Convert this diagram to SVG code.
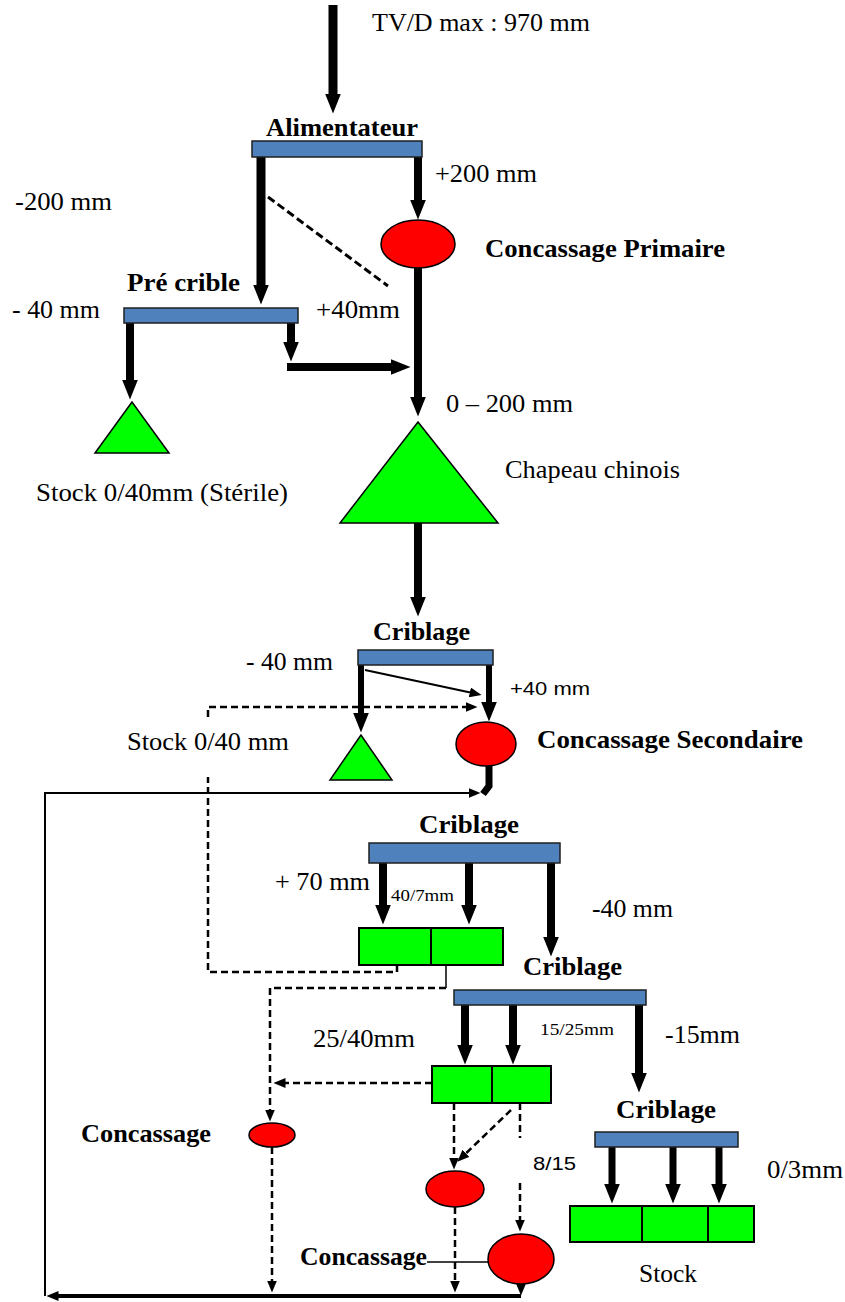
<svg xmlns="http://www.w3.org/2000/svg" width="845" height="1302" viewBox="0 0 845 1302">
<style>
  text { font-family: "Liberation Serif", "Times New Roman", serif; font-size: 26px; fill: #000; }
  .b { font-weight: bold; font-size: 25px; }
  .bb { font-weight: bold; font-size: 25px; }
  .sans { font-family: "Liberation Sans", Arial, sans-serif; font-size: 18px; }
  .sm { font-size: 16px; }
  .bar { fill: #4F81BD; stroke: #1F1F1F; stroke-width: 1.5; }
  .grn { fill: #00FF00; stroke: #000; stroke-width: 2; }
  .red { fill: #FF0000; stroke: #000; stroke-width: 1.5; }
  .thick { fill: none; stroke: #000; stroke-width: 8; marker-end: url(#ahL); }
  .dash { fill: none; stroke: #000; stroke-width: 2.5; stroke-dasharray: 7 4; }
  .dashA { fill: none; stroke: #000; stroke-width: 2.5; stroke-dasharray: 7 4; marker-end: url(#ahS); }
  .thin { fill: none; stroke: #000; stroke-width: 2; }
</style>
<defs>
  <marker id="ahL" viewBox="0 0 20 16" markerWidth="20" markerHeight="16" refX="0.5" refY="8" orient="auto" markerUnits="userSpaceOnUse">
    <path d="M0,0 L20,8 L0,16 z" fill="#000"/>
  </marker>
  <marker id="ahS" viewBox="0 0 12 10" markerWidth="12" markerHeight="10" refX="0.5" refY="5" orient="auto" markerUnits="userSpaceOnUse">
    <path d="M0,0 L12,5 L0,10 z" fill="#000"/>
  </marker>
</defs>

<g id="connectors">
  <path class="thick" d="M333,5 V94" style="stroke-width:9"/>
  <path class="thick" d="M261,157 V285" style="stroke-width:9"/>
  <path class="thick" d="M418,157 V200" style="stroke-width:8"/>
  <path class="dash" d="M268,197 L388,286" style="stroke-width:3;stroke-dasharray:8 4"/>
  <path class="thick" d="M418,268 V397"/>
  <path class="thick" d="M130,323 V380"/>
  <path class="thick" d="M291,323 V342"/>
  <path class="thick" d="M287,367 H391"/>
  <path class="thick" d="M418,523 V597"/>
  <path class="thick" d="M361,665 V713" style="stroke-width:6"/>
  <path class="thick" d="M489,665 V702" style="stroke-width:6"/>
  <path class="thin" d="M365,670 L470.3,692.5" style="marker-end:url(#ahS)"/>
  <path class="dashA" d="M397,965 V972 H208 V777 M208,717 V707 H466"/>
  <path d="M489,766 V786 L483,794" fill="none" stroke="#000" stroke-width="7"/>
  <path class="thin" d="M45,1296 V793 H469" style="marker-end:url(#ahS)"/>
  <path class="thick" d="M383,863 V905"/>
  <path class="thick" d="M469,863 V905"/>
  <path class="thick" d="M551,863 V937"/>
  <path class="thin" d="M446,965 V988" style="stroke-width:1.5"/>
  <path class="dashA" d="M446,988 H270 V1110"/>
  <path class="thick" d="M465,1005 V1045"/>
  <path class="thick" d="M513,1005 V1045"/>
  <path class="thick" d="M639,1005 V1073"/>
  <path class="dashA" d="M432,1083 H285"/>
  <path class="dashA" d="M272,1147 V1281"/>
  <path class="dashA" d="M454,1103 V1158"/>
  <path class="dashA" d="M511,1110 L465.6,1153.7"/>
  <path class="dashA" d="M520,1103 V1138 M520,1183 V1220"/>
  <path class="dashA" d="M455,1207 V1281"/>
  <path d="M521,1283 V1284" fill="none" stroke="#000" stroke-width="4" style="marker-end:url(#ahS)"/>
  <path d="M521,1296 H58" fill="none" stroke="#000" stroke-width="4" style="marker-end:url(#ahS)"/>
  <path class="thin" d="M427,1262 H488" style="stroke-width:1.5"/>
  <path class="thick" d="M612,1147 V1184" style="stroke-width:7"/>
  <path class="thick" d="M673,1147 V1184" style="stroke-width:7"/>
  <path class="thick" d="M719,1147 V1184" style="stroke-width:7"/>
</g>

<text x="372" y="31" textLength="218" lengthAdjust="spacingAndGlyphs">TV/D max : 970 mm</text>

<g id="alimentateur">
  <rect class="bar" x="252" y="141" width="170" height="16"/>
  <text class="b" x="266" y="136" textLength="152" lengthAdjust="spacingAndGlyphs">Alimentateur</text>
</g>
<text x="435" y="182" textLength="102" lengthAdjust="spacingAndGlyphs">+200 mm</text>
<text x="15" y="210" textLength="97" lengthAdjust="spacingAndGlyphs">-200 mm</text>

<g id="concassage-primaire">
  <ellipse class="red" cx="418" cy="244" rx="37" ry="24"/>
  <text class="bb" x="485" y="257" textLength="240" lengthAdjust="spacingAndGlyphs">Concassage Primaire</text>
</g>

<g id="pre-crible">
  <rect class="bar" x="124" y="308" width="174" height="15"/>
  <text class="b" x="127" y="291" textLength="113" lengthAdjust="spacingAndGlyphs">Pré crible</text>
</g>
<text x="12" y="318" textLength="88" lengthAdjust="spacingAndGlyphs">- 40 mm</text>
<text x="316" y="318" textLength="84" lengthAdjust="spacingAndGlyphs">+40mm</text>

<g id="stock-sterile">
  <polygon class="grn" points="132,402 95,453 169,453" style="stroke-width:1.5"/>
  <text x="36" y="501" textLength="252" lengthAdjust="spacingAndGlyphs">Stock 0/40mm (Stérile)</text>
</g>

<text x="446" y="412" textLength="127" lengthAdjust="spacingAndGlyphs">0 – 200 mm</text>
<g id="chapeau-chinois">
  <polygon class="grn" points="418,422 340,523 498,523" style="stroke-width:1.5"/>
  <text x="505" y="478" textLength="175" lengthAdjust="spacingAndGlyphs">Chapeau chinois</text>
</g>

<g id="criblage-1">
  <rect class="bar" x="358" y="650" width="135" height="15"/>
  <text class="b" x="373" y="640" textLength="97" lengthAdjust="spacingAndGlyphs">Criblage</text>
</g>
<text x="246" y="670" textLength="87" lengthAdjust="spacingAndGlyphs">- 40 mm</text>
<text class="sans" x="510" y="695" textLength="80" lengthAdjust="spacingAndGlyphs">+40 mm</text>

<g id="stock-040">
  <polygon class="grn" points="361,735 330,780 392,780" style="stroke-width:1.5"/>
  <text x="127" y="750" textLength="162" lengthAdjust="spacingAndGlyphs">Stock 0/40 mm</text>
</g>

<g id="concassage-secondaire">
  <ellipse class="red" cx="486" cy="744" rx="30" ry="22"/>
  <text class="bb" x="537" y="748" textLength="266" lengthAdjust="spacingAndGlyphs">Concassage Secondaire</text>
</g>

<g id="criblage-2">
  <rect class="bar" x="369" y="843" width="191" height="20"/>
  <text class="b" x="419" y="833" textLength="100" lengthAdjust="spacingAndGlyphs">Criblage</text>
</g>
<text x="275" y="890" textLength="95" lengthAdjust="spacingAndGlyphs">+ 70 mm</text>
<text class="sm" x="391" y="901" textLength="63" lengthAdjust="spacingAndGlyphs">40/7mm</text>
<text x="592" y="917" textLength="81" lengthAdjust="spacingAndGlyphs">-40 mm</text>

<g id="bac-1">
  <rect class="grn" x="359" y="928" width="144" height="37"/>
  <line x1="431" y1="928" x2="431" y2="965" stroke="#000" stroke-width="2"/>
</g>

<g id="criblage-3">
  <rect class="bar" x="454" y="990" width="192" height="15"/>
  <text class="b" x="523" y="975" textLength="99" lengthAdjust="spacingAndGlyphs">Criblage</text>
</g>
<text x="313" y="1047" textLength="102" lengthAdjust="spacingAndGlyphs">25/40mm</text>
<text class="sm" x="540" y="1035" textLength="74" lengthAdjust="spacingAndGlyphs">15/25mm</text>
<text x="665" y="1043" textLength="75" lengthAdjust="spacingAndGlyphs">-15mm</text>

<g id="bac-2">
  <rect class="grn" x="432" y="1066" width="119" height="37"/>
  <line x1="492" y1="1066" x2="492" y2="1103" stroke="#000" stroke-width="2"/>
</g>

<g id="concassage-1">
  <ellipse class="red" cx="272" cy="1135" rx="23" ry="12"/>
  <text class="bb" x="81" y="1142" textLength="130" lengthAdjust="spacingAndGlyphs">Concassage</text>
</g>

<text class="sans" x="533" y="1170" textLength="43" lengthAdjust="spacingAndGlyphs">8/15</text>

<g id="concassage-2">
  <ellipse class="red" cx="455" cy="1189" rx="29" ry="18"/>
</g>

<g id="concassage-3">
  <ellipse class="red" cx="521" cy="1259" rx="33" ry="25"/>
  <text class="bb" x="300" y="1265" textLength="127" lengthAdjust="spacingAndGlyphs">Concassage</text>
</g>

<g id="criblage-4">
  <rect class="bar" x="595" y="1132" width="143" height="15"/>
  <text class="b" x="616" y="1118" textLength="100" lengthAdjust="spacingAndGlyphs">Criblage</text>
</g>
<text x="767" y="1178" textLength="76" lengthAdjust="spacingAndGlyphs">0/3mm</text>

<g id="stock-final">
  <rect class="grn" x="570" y="1206" width="184" height="36"/>
  <line x1="642" y1="1206" x2="642" y2="1242" stroke="#000" stroke-width="2"/>
  <line x1="708" y1="1206" x2="708" y2="1242" stroke="#000" stroke-width="2"/>
  <text x="639" y="1282" textLength="58" lengthAdjust="spacingAndGlyphs">Stock</text>
</g>
</svg>
